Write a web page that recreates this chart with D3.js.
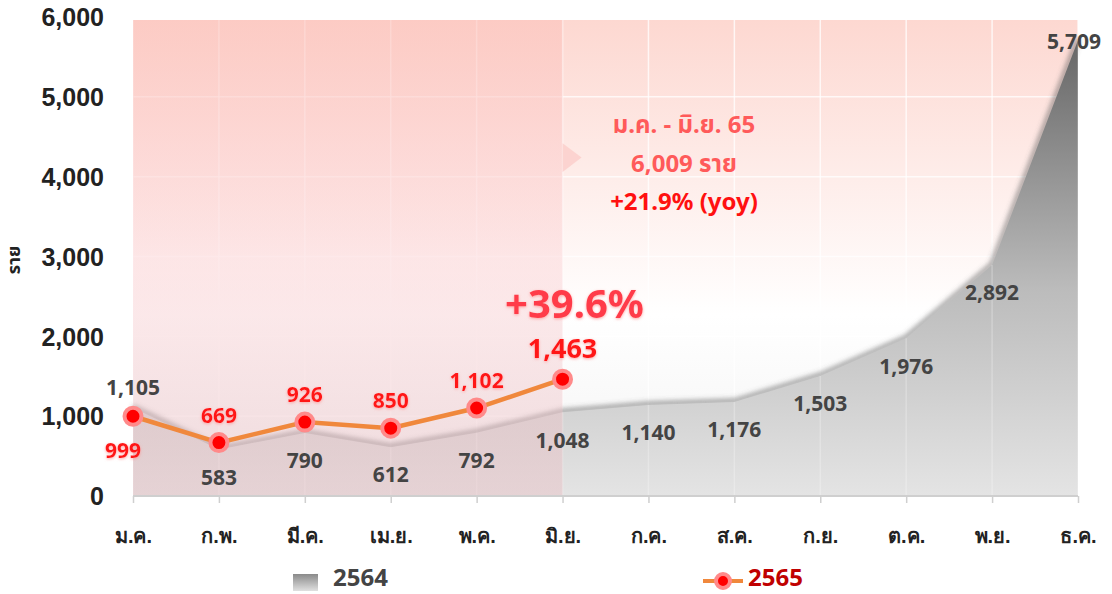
<!DOCTYPE html>
<html>
<head>
<meta charset="utf-8">
<script src="https://cdn.jsdelivr.net/npm/d3@7.9.0/dist/d3.min.js"></script>
<style>
  body { margin: 0; background: #fff; }
  svg { display: block; font-family: "Noto Sans", "Noto Sans Thai", "Open Sans", sans-serif; }
  .tick text { font-weight: 700; fill: #222; }
</style>
</head>
<body>
<svg id="chart" width="1112" height="594"></svg>
<script>
// data
const months = ['ม.ค.', 'ก.พ.', 'มี.ค.', 'เม.ย.', 'พ.ค.', 'มิ.ย.', 'ก.ค.', 'ส.ค.', 'ก.ย.', 'ต.ค.', 'พ.ย.', 'ธ.ค.'];
const values2564 = [1105, 583, 790, 612, 792, 1048, 1140, 1176, 1503, 1976, 2892, 5709];
const values2565 = [999, 669, 926, 850, 1102, 1463];
const yTicks = [0, 1000, 2000, 3000, 4000, 5000, 6000];
const seriesNames = ['2564', '2565'];
const noteLines = ['ม.ค. - มิ.ย. 65', '6,009 ราย', '+21.9% (yoy)'];
const growthLabel = '+39.6%';

const svg = d3.select('#chart');
const fmt = d3.format(',');

const x = d3.scalePoint().domain(months).range([133, 1078]);
const y = d3.scaleLinear().domain([0, 6000]).range([496, 17]);
const plotTop = 20;

const defs = svg.append('defs');
let bgGrad = defs.append('linearGradient').attr('id', 'bgGrad')
  .attr('x1', 0).attr('y1', 0).attr('x2', 0).attr('y2', 1);
bgGrad.append('stop').attr('offset', '0%').attr('stop-color', '#fdd8d1');
bgGrad.append('stop').attr('offset', '62%').attr('stop-color', '#ffffff');
bgGrad.append('stop').attr('offset', '100%').attr('stop-color', '#f2f2f2');

let areaGrad = defs.append('linearGradient').attr('id', 'areaGrad')
  .attr('gradientUnits', 'userSpaceOnUse')
  .attr('x1', 0).attr('y1', y(5709)).attr('x2', 0).attr('y2', y(0));
areaGrad.append('stop').attr('offset', '0%').attr('stop-color', '#666666');
areaGrad.append('stop').attr('offset', '55%').attr('stop-color', '#bcbcbc');
areaGrad.append('stop').attr('offset', '100%').attr('stop-color', '#e4e4e4');

let pinkGrad = defs.append('linearGradient').attr('id', 'pinkGrad')
  .attr('x1', 0).attr('y1', 0).attr('x2', 0).attr('y2', 1);
pinkGrad.append('stop').attr('offset', '0%').attr('stop-color', '#fcc4bd').attr('stop-opacity', 0.65);
pinkGrad.append('stop').attr('offset', '50%').attr('stop-color', '#fbd0d3').attr('stop-opacity', 0.45);
pinkGrad.append('stop').attr('offset', '100%').attr('stop-color', '#e8b8be').attr('stop-opacity', 0.4);

let legGrad = defs.append('linearGradient').attr('id', 'legGrad')
  .attr('x1', 0).attr('y1', 0).attr('x2', 0).attr('y2', 1);
legGrad.append('stop').attr('offset', '0%').attr('stop-color', '#8a8a8a');
legGrad.append('stop').attr('offset', '100%').attr('stop-color', '#e0e0e0');

const blur = defs.append('filter').attr('id', 'blur')
  .attr('x', '-10%').attr('y', '-10%').attr('width', '120%').attr('height', '120%');
blur.append('feGaussianBlur').attr('stdDeviation', 2.5);

const glow = defs.append('filter').attr('id', 'glow')
  .attr('x', '-20%').attr('y', '-30%').attr('width', '140%').attr('height', '160%');
glow.append('feDropShadow').attr('dx', 0).attr('dy', 1).attr('stdDeviation', 1.5)
  .attr('flood-color', '#ff9090').attr('flood-opacity', 0.8);

// background
svg.append('rect')
  .attr('x', x(months[0])).attr('y', plotTop)
  .attr('width', x(months[11]) - x(months[0])).attr('height', y(0) - plotTop)
  .attr('fill', 'url(#bgGrad)');

// grid
svg.append('g').selectAll('line').data(yTicks.slice(1)).join('line')
  .attr('x1', x(months[0])).attr('x2', x(months[11]))
  .attr('y1', d => y(d)).attr('y2', d => y(d))
  .attr('stroke', '#ffffff').attr('stroke-opacity', 0.75).attr('stroke-width', 1.5);
svg.append('g').selectAll('line').data(months).join('line')
  .attr('x1', d => x(d)).attr('x2', d => x(d))
  .attr('y1', plotTop).attr('y2', y(0))
  .attr('stroke', '#ffffff').attr('stroke-opacity', 0.75).attr('stroke-width', 1.5);

// 2564 area
const areaData = months.map((m, i) => ({ m, v: values2564[i] }));
const area = d3.area().x(d => x(d.m)).y0(y(0)).y1(d => y(d.v));
const edge = d3.line().x(d => x(d.m)).y(d => y(d.v));

svg.append('path').datum(areaData)
  .attr('d', edge)
  .attr('fill', 'none').attr('stroke', '#555').attr('stroke-width', 5)
  .attr('stroke-opacity', 0.55).attr('filter', 'url(#blur)')
  .attr('transform', 'translate(0,-1)');
svg.append('path').datum(areaData)
  .attr('d', area)
  .attr('fill', 'url(#areaGrad)');

// grid lines faintly visible on top of area
svg.append('g').selectAll('line').data(areaData).join('line')
  .attr('x1', d => x(d.m)).attr('x2', d => x(d.m))
  .attr('y1', d => y(d.v)).attr('y2', y(0))
  .attr('stroke', '#ffffff').attr('stroke-opacity', 0.25).attr('stroke-width', 1.5);

// pink overlay Jan-Jun
svg.append('rect')
  .attr('x', x(months[0])).attr('y', plotTop)
  .attr('width', x(months[5]) - x(months[0])).attr('height', y(0) - plotTop)
  .attr('fill', 'url(#pinkGrad)');

// callout pointer
svg.append('path')
  .attr('d', `M${x(months[5])},${y(4420)} L${x(months[5]) + 19},${y(4240)} L${x(months[5])},${y(4060)} Z`)
  .attr('fill', '#fbcfcb').attr('opacity', 0.85);

// axes
const yAxis = svg.append('g')
  .attr('transform', 'translate(104,0)')
  .call(d3.axisLeft(y).tickValues(yTicks).tickFormat(fmt).tickSize(0).tickPadding(0));
yAxis.select('.domain').remove();
yAxis.selectAll('text').attr('font-size', 25).attr('dy', '0.35em');

const xAxis = svg.append('g')
  .attr('transform', `translate(0,${y(0)})`)
  .call(d3.axisBottom(x).tickSize(7).tickPadding(26));
xAxis.select('.domain').attr('stroke', '#cfcfcf').attr('stroke-width', 2)
  .attr('d', `M${x(months[0])},0H${x(months[11])}`);
xAxis.selectAll('.tick line').attr('stroke', '#cfcfcf').attr('stroke-width', 1.5);
xAxis.selectAll('text').attr('font-size', 20);

svg.append('text')
  .attr('transform', 'translate(20,260) rotate(-90)')
  .attr('text-anchor', 'middle')
  .attr('font-size', 18).attr('font-weight', 700).attr('fill', '#222')
  .text('ราย');

// 2564 labels
svg.append('g').selectAll('text').data(areaData).join('text')
  .attr('x', (d, i) => i === 11 ? x(d.m) - 4 : x(d.m))
  .attr('y', (d, i) => i === 0 ? y(d.v) - 20 : i === 11 ? y(d.v) + 1 : y(d.v) + 28)
  .attr('dy', '0.35em')
  .attr('text-anchor', 'middle')
  .attr('font-size', 21).attr('font-weight', 700).attr('fill', '#444')
  .text(d => fmt(d.v));

// 2565 line
const lineData = values2565.map((v, i) => ({ m: months[i], v }));
svg.append('path').datum(lineData)
  .attr('d', edge)
  .attr('fill', 'none').attr('stroke', '#f0883c').attr('stroke-width', 4.5);

svg.append('g').selectAll('circle').data(lineData).join('circle')
  .attr('cx', d => x(d.m)).attr('cy', d => y(d.v))
  .attr('r', 8.5)
  .attr('fill', '#ff0000').attr('stroke', '#ff8a8a').attr('stroke-width', 4);

svg.append('g').selectAll('text').data(lineData).join('text')
  .attr('x', (d, i) => i === 0 ? x(d.m) - 10 : x(d.m))
  .attr('y', (d, i) => i === 0 ? y(d.v) + 34 : i === 5 ? y(d.v) - 31 : y(d.v) - 27)
  .attr('dy', '0.35em')
  .attr('text-anchor', 'middle')
  .attr('font-size', (d, i) => i === 5 ? 27 : 21).attr('font-weight', 700)
  .attr('fill', '#ff1414')
  .attr('filter', 'url(#glow)')
  .text(d => fmt(d.v));

// growth label
svg.append('text')
  .attr('x', x(months[5]) + 12).attr('y', y(2410))
  .attr('dy', '0.35em')
  .attr('text-anchor', 'middle')
  .attr('font-size', 40).attr('font-weight', 700).attr('fill', '#ff3a48')
  .attr('filter', 'url(#glow)')
  .text(growthLabel);

// callout text
svg.append('g').selectAll('text').data(noteLines).join('text')
  .attr('x', 684)
  .attr('y', (d, i) => y(4650) + i * 38.5)
  .attr('dy', '0.35em')
  .attr('text-anchor', 'middle')
  .attr('font-size', 24).attr('font-weight', 700)
  .attr('fill', (d, i) => i === 2 ? '#ff1010' : '#ff5a5a')
  .text(d => d);

// legend
const leg = svg.append('g');
leg.append('rect').attr('x', 293).attr('y', 574).attr('width', 25).attr('height', 17)
  .attr('fill', 'url(#legGrad)');
leg.append('text').attr('x', 333).attr('y', 586)
  .attr('font-size', 24).attr('font-weight', 700).attr('fill', '#444')
  .text(seriesNames[0]);
leg.append('line').attr('x1', 703).attr('x2', 743).attr('y1', 581).attr('y2', 581)
  .attr('stroke', '#f0883c').attr('stroke-width', 4);
leg.append('circle').attr('cx', 723).attr('cy', 581).attr('r', 7)
  .attr('fill', '#ff0000').attr('stroke', '#ff8a8a').attr('stroke-width', 4);
leg.append('text').attr('x', 748).attr('y', 586)
  .attr('font-size', 24).attr('font-weight', 700).attr('fill', '#c00000')
  .text(seriesNames[1]);
</script>
</body>
</html>
